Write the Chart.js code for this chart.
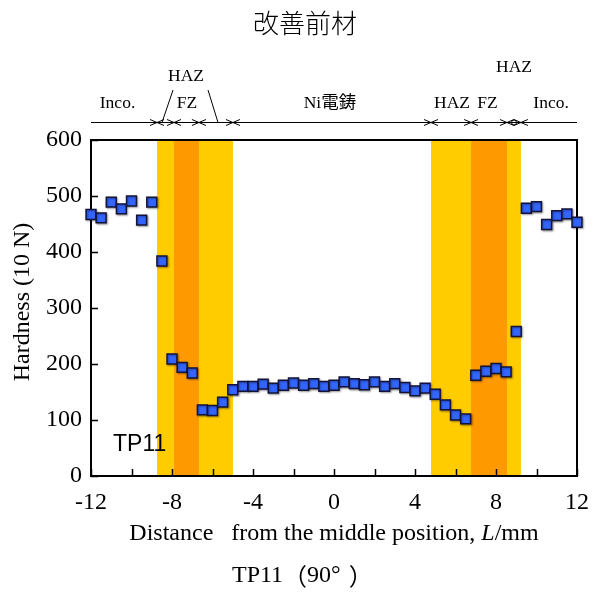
<!DOCTYPE html>
<html>
<head>
<meta charset="utf-8">
<script src="https://cdn.jsdelivr.net/npm/chart.js@4/dist/chart.umd.min.js"></script>
<style>
  html, body { margin: 0; padding: 0; background: #ffffff; }
</style>
</head>
<body>
<canvas id="hardnessChart" width="601" height="593"></canvas>
<script>
/*****************************************************************
 *                         CHART DATA
 *****************************************************************/

// distance from the middle position, L (mm)
const positions = [
  -12, -11.5, -11, -10.5, -10, -9.5, -9, -8.5, -8, -7.5, -7, -6.5, -6, -5.5, -5, -4.5, -4,
  -3.5, -3, -2.5, -2, -1.5, -1, -0.5, 0, 0.5, 1, 1.5, 2, 2.5, 3, 3.5, 4,
  4.5, 5, 5.5, 6, 6.5, 7, 7.5, 8, 8.5, 9, 9.5, 10, 10.5, 11, 11.5, 12,
];

// hardness (10 N)
const hardness = [
  467, 461, 489, 477, 491, 457, 489, 384, 209, 194, 184, 118, 117, 132, 154, 160, 160,
  164, 157, 162, 166, 162, 165, 160, 162, 168, 165, 163, 168, 160, 165, 158, 152,
  157, 146, 127, 109, 102, 180, 187, 192, 186, 258, 478, 481, 449, 465, 468, 453,
];

const xTickLabels = [-12, -8, -4, 0, 4, 8, 12];
const yTickLabels = [0, 100, 200, 300, 400, 500, 600];

// zone limits (mm)
const hazZones = [[-8.74, -4.99], [4.79, 9.23]];
const fzZones = [[-7.90, -6.67], [6.77, 8.54]];
const zoneBounds = [-8.74, -7.90, -6.67, -4.99, 4.79, 6.77, 8.54, 9.23];

// zone names above the plot: [text, L, row]
const zoneLabels = [
  ["Inco.", -10.69, 1],
  ["HAZ", -7.31, 0],
  ["FZ", -7.26, 1],
  ["Ni電鋳", -0.2, 1],
  ["HAZ", 5.83, 1],
  ["FZ", 7.58, 1],
  ["Inco.", 10.72, 1],
  ["HAZ", 8.89, -1],
];

const SERIF = "'Liberation Serif', 'Noto Sans CJK JP', serif";
const SANS = "'Liberation Sans', Arial, sans-serif";
const CJK = "'Noto Sans CJK JP', sans-serif";

/*****************************************************************
 *                         PLUGINS
 *****************************************************************/

const zonePlugin = {
  id: "zones",
  beforeDatasetsDraw(chart) {
    const { ctx, chartArea: a, scales: { x, y } } = chart;
    ctx.save();
    ctx.fillStyle = "#ffcc00";
    hazZones.forEach(([s, e]) => {
      const x0 = x.getPixelForValue(s), x1 = x.getPixelForValue(e);
      ctx.fillRect(x0, a.top, x1 - x0, a.bottom - a.top);
    });
    ctx.fillStyle = "#ff9900";
    fzZones.forEach(([s, e]) => {
      const x0 = x.getPixelForValue(s), x1 = x.getPixelForValue(e);
      ctx.fillRect(x0, a.top, x1 - x0, a.bottom - a.top);
    });

    // frame
    ctx.strokeStyle = "#000";
    ctx.lineWidth = 2;
    ctx.strokeRect(a.left, a.top, a.right - a.left, a.bottom - a.top);

    // inward ticks
    ctx.lineWidth = 1.5;
    ctx.beginPath();
    x.ticks.forEach(t => {
      const px = Math.round(x.getPixelForValue(t.value)) + 0.5;
      ctx.moveTo(px, a.bottom);
      ctx.lineTo(px, a.bottom - 7);
    });
    y.ticks.forEach(t => {
      const py = Math.round(y.getPixelForValue(t.value)) + 0.5;
      ctx.moveTo(a.left, py);
      ctx.lineTo(a.left + 7, py);
    });
    ctx.stroke();
    ctx.restore();

    // soft shadow under the markers
    ctx.save();
    ctx.shadowColor = "rgba(0,0,0,0.35)";
    ctx.shadowBlur = 2;
    ctx.shadowOffsetX = 1;
    ctx.shadowOffsetY = 1;
  },
  afterDatasetsDraw(chart) {
    chart.ctx.restore();
  },
};

function arrowHead(ctx, tipX, y, dir) {
  ctx.moveTo(tipX - dir * 7, y - 3);
  ctx.lineTo(tipX, y);
  ctx.lineTo(tipX - dir * 7, y + 3);
}

const textPlugin = {
  id: "texts",
  afterDraw(chart) {
    const { ctx, chartArea: a, scales: { x } } = chart;
    ctx.save();
    ctx.fillStyle = "#000";
    ctx.textAlign = "center";
    ctx.textBaseline = "middle";

    // title
    ctx.font = "300 26px " + CJK;
    ctx.fillText("改善前材", 305, 23);

    // zone line with arrows
    const lineY = 122.5;
    ctx.strokeStyle = "#000";
    ctx.lineWidth = 1;
    ctx.beginPath();
    ctx.moveTo(a.left, lineY);
    ctx.lineTo(a.right, lineY);
    zoneBounds.forEach(b => {
      const px = x.getPixelForValue(b);
      arrowHead(ctx, px, lineY, 1);
      arrowHead(ctx, px, lineY, -1);
    });
    // leader lines to the left HAZ label
    ctx.moveTo(173, 90);
    ctx.lineTo(162, lineY);
    ctx.moveTo(208, 90);
    ctx.lineTo(218, lineY);
    ctx.stroke();
    ctx.beginPath();
    ctx.arc(x.getPixelForValue(8.89), lineY, 2.5, 0, Math.PI * 2);
    ctx.stroke();

    const rowY = { "-1": 67, "0": 76, "1": 103 };
    ctx.font = "17.5px " + SERIF;
    zoneLabels.forEach(([t, l, r]) => {
      ctx.fillText(t, x.getPixelForValue(l), rowY[r]);
    });

    // TP11 label inside
    ctx.font = "23px " + SANS;
    ctx.textAlign = "left";
    ctx.fillText("TP11", 113, 445);

    // y axis title
    ctx.save();
    ctx.translate(23, 302);
    ctx.rotate(-Math.PI / 2);
    ctx.textAlign = "center";
    ctx.font = "24px " + SERIF;
    ctx.fillText("Hardness (10 N)", 0, 0);
    ctx.restore();

    // x axis title with italic L
    const parts = [
      ["Distance   from the middle position, ", "24px " + SERIF],
      ["L", "italic 24px " + SERIF],
      ["/mm", "24px " + SERIF],
    ];
    let total = 0;
    parts.forEach(([t, f]) => { ctx.font = f; total += ctx.measureText(t).width; });
    let cx = (a.left + a.right) / 2 - total / 2;
    ctx.textAlign = "left";
    parts.forEach(([t, f]) => {
      ctx.font = f;
      ctx.fillText(t, cx, 534);
      cx += ctx.measureText(t).width;
    });

    // bottom caption, full-width brackets kept in 1em boxes
    const capY = 576;
    let bx = 232;
    ctx.font = "24px " + SERIF;
    ctx.textAlign = "left";
    ctx.fillText("TP11", bx, capY);
    bx += ctx.measureText("TP11").width;
    ctx.font = "24px " + CJK;
    ctx.textAlign = "right";
    ctx.fillText("（", bx + 24, capY);
    bx += 24;
    ctx.font = "24px " + SERIF;
    ctx.textAlign = "left";
    ctx.fillText("90°", bx, capY);
    bx += ctx.measureText("90°").width;
    ctx.font = "24px " + CJK;
    ctx.fillText("）", bx + 8, capY);
    ctx.restore();
  },
};

/*****************************************************************
 *                         RENDER
 *****************************************************************/

const points = positions.map((p, i) => ({ x: p, y: hardness[i] }));

new Chart(document.getElementById("hardnessChart"), {
  type: "scatter",
  data: {
    datasets: [{
      data: points,
      pointStyle: "rect",
      pointRadius: 7,
      pointHoverRadius: 7,
      backgroundColor: "#3366ff",
      borderColor: "#14143a",
      borderWidth: 1.5,
      clip: false,
    }],
  },
  options: {
    responsive: false,
    animation: false,
    devicePixelRatio: 1,
    layout: { padding: { top: 140, right: 24, left: 0, bottom: 0 } },
    plugins: { legend: { display: false }, tooltip: { enabled: false } },
    scales: {
      x: {
        type: "linear",
        min: -12,
        max: 12,
        afterFit: s => { s.height = 117; },
        grid: { drawOnChartArea: false, drawTicks: false },
        border: { display: false },
        ticks: {
          stepSize: 2,
          autoSkip: false,
          maxRotation: 0,
          padding: 12,
          color: "#000",
          font: { family: SERIF, size: 24 },
          callback: v => (xTickLabels.includes(v) ? String(v) : ""),
        },
      },
      y: {
        min: 0,
        max: 600,
        afterFit: s => { s.width = 91; },
        grid: { drawOnChartArea: false, drawTicks: false },
        border: { display: false },
        ticks: {
          stepSize: 100,
          padding: 9,
          color: "#000",
          font: { family: SERIF, size: 24 },
          callback: v => (yTickLabels.includes(v) ? String(v) : ""),
        },
      },
    },
  },
  plugins: [zonePlugin, textPlugin],
});
</script>
</body>
</html>
